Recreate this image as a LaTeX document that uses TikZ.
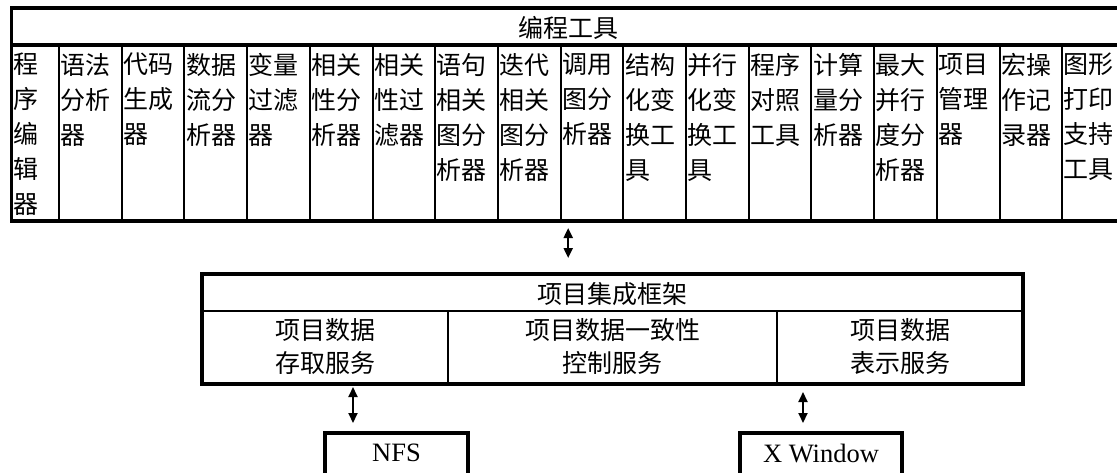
\documentclass[tikz,border=0pt]{standalone}
\usepackage{fontspec}
\setmainfont{Liberation Serif}
\newfontfamily\cjk{Noto Sans CJK SC}
\usetikzlibrary{arrows.meta}
\begin{document}
\begin{tikzpicture}[x=1pt,y=-1pt,
  thickline/.style={line width=3.5pt},
  thinline/.style={line width=2pt},
  boxnode/.style={draw, line width=3.5pt, outer sep=0pt, inner sep=0pt, anchor=north west},
  coltext/.style={anchor=north west, inner sep=0pt, align=left, font=\cjk\fontsize{25}{35}\selectfont},
  cell/.style={inner sep=0pt, align=center, font=\cjk\fontsize{25}{33}\selectfont},
  latin/.style={inner sep=0pt, font=\fontsize{26.5}{30}\selectfont},
  arr/.style={line width=2pt, {Triangle[width=9pt,length=10pt]}-{Triangle[width=9pt,length=10pt]}}
]
\clip (0,0) rectangle (1117,472);
\fill[white] (0,0) rectangle (1117,472);

% ---- top box: programming tools
\node[boxnode, minimum width=1113.4pt, minimum height=213pt] (tools) at (11.5,8) {};
\node[cell] (toolstitle) at (568,27.5) {编程工具};
\draw[thickline] (tools.west |- 0,45) -- (tools.east |- 0,45);
\foreach \i in {0,...,16}
  \draw[thinline] ({59+62.7*\i},45) -- ({59+62.7*\i},221);
\node[coltext] (c0) at (13,53) {程\\序\\编\\辑\\器};
\foreach \t [count=\k from 1] in {
  {语法\\分析\\器},
  {代码\\生成\\器},
  {数据\\流分\\析器},
  {变量\\过滤\\器},
  {相关\\性分\\析器},
  {相关\\性过\\滤器},
  {语句\\相关\\图分\\析器},
  {迭代\\相关\\图分\\析器},
  {调用\\图分\\析器},
  {结构\\化变\\换工\\具},
  {并行\\化变\\换工\\具},
  {程序\\对照\\工具},
  {计算\\量分\\析器},
  {最大\\并行\\度分\\析器},
  {项目\\管理\\器},
  {宏操\\作记\\录器},
  {图形\\打印\\支持\\工具}}
  \node[coltext] (c\k) at ({60.5+62.7*(\k-1)},53) {\t};

% ---- middle box: project integration framework
\node[boxnode, minimum width=821pt, minimum height=110pt] (frame) at (202,274) {};
\node[cell] (frametitle) at (612.5,294) {项目集成框架};
\draw[thinline] (frame.west |- 0,311) -- (frame.east |- 0,311);
\draw[thinline] (448,311) -- (448,0 |- frame.south);
\draw[thinline] (777,311) -- (777,0 |- frame.south);
\node[cell] (access) at (325,346.5) {项目数据\\存取服务};
\node[cell] (consist) at (612.5,346.5) {项目数据一致性\\控制服务};
\node[cell] (present) at (900,346.5) {项目数据\\表示服务};

% ---- bottom boxes
\node[boxnode, minimum width=143pt, minimum height=50pt] (nfs) at (325,433) {};
\node[latin] (nfslabel) at (396.5,453) {NFS};
\node[boxnode, minimum width=162pt, minimum height=50pt] (xw) at (740,433) {};
\node[latin] (xwlabel) at (821,453) {X Window};

% ---- connectors
\draw[arr, shorten <=7pt, shorten >=16pt] (tools.south) -- (tools.south |- frame.north);
\draw[arr, shorten <=3pt, shorten >=10pt] (353,0 |- frame.south) -- (353,0 |- nfs.north);
\draw[arr, shorten <=8pt, shorten >=10pt] (803,0 |- frame.south) -- (803,0 |- xw.north);
\end{tikzpicture}
\end{document}
